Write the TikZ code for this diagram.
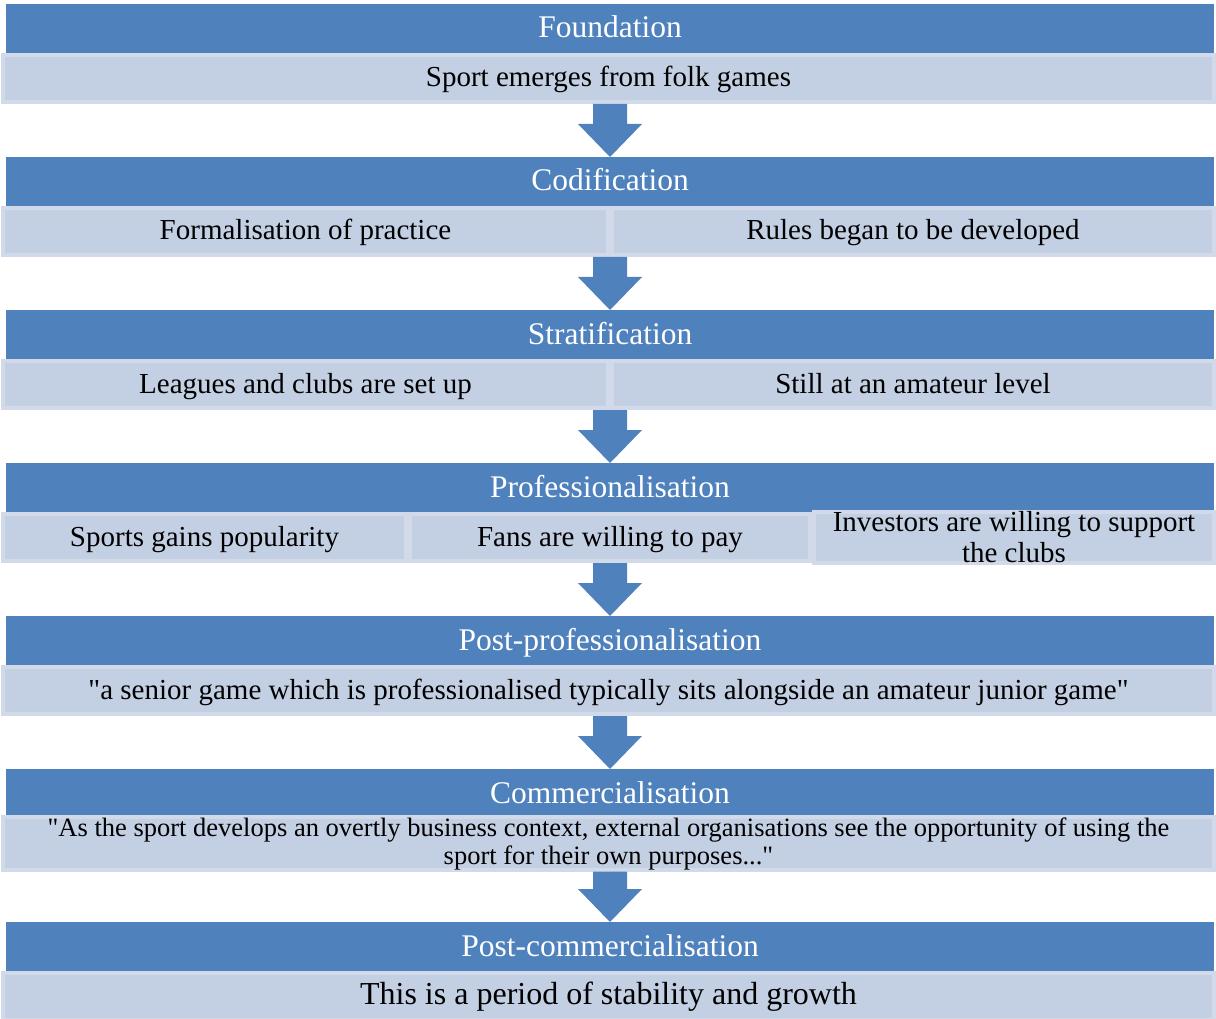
\documentclass[tikz,border=0pt]{standalone}
\usepackage{fontspec}
\setmainfont{Liberation Serif}[Ligatures=TeXOff]
\usetikzlibrary{calc}
\definecolor{accent}{HTML}{4F81BD}
\definecolor{paleband}{HTML}{C3CFE2}
\definecolor{palerim}{HTML}{D2DAEA}
\tikzset{
  header/.style={fill=accent, text=white, inner sep=0pt, outer sep=0pt,
    minimum width=1208pt, minimum height=49pt,
    text height=24pt, text depth=5pt,
    font=\fontsize{31.5}{33}\selectfont},
  band/.style={fill=paleband, draw=palerim, line width=4pt, inner sep=0pt,
    minimum height=47pt, text=black, align=center,
    font=\fontsize{29}{31}\selectfont},
  oneline/.style={text height=21pt, text depth=4pt},
  full/.style={band, minimum width=1211pt},
  half/.style={band, minimum width=#1pt},
  flow/.style={fill=accent}
}
% block arrow from the bottom of one row to the top of the next header
\newcommand\stagearrow[2]{%
  \fill[flow] let \p1=(#1.south), \p2=(#2.north) in
    (\x2-17pt,\y1) -- (\x2+17pt,\y1) -- (\x2+17pt,\y2+33pt) --
    (\x2+32pt,\y2+33pt) -- (\x2,\y2) -- (\x2-32pt,\y2+33pt) --
    (\x2-17pt,\y2+33pt) -- cycle;}
\begin{document}
\begin{tikzpicture}[x=1pt,y=-1pt]
\useasboundingbox (0,0) rectangle (1216,1019);

% Foundation
\node[header] (h1) at (610,28.5) {Foundation};
\node[full, oneline] (s1) at (608.5,78.5) {Sport emerges from folk games};

% Codification
\node[header] (h2) at (610,181.5) {Codification};
\node[half=605, oneline] (s2a) at (305.5,231.5) {Formalisation of practice};
\node[half=602, oneline] (s2b) at (913,231.5) {Rules began to be developed};

% Stratification
\node[header] (h3) at (610,334.5) {Stratification};
\node[half=605, oneline] (s3a) at (305.5,384.5) {Leagues and clubs are set up};
\node[half=602, oneline] (s3b) at (913,384.5) {Still at an amateur level};

% Professionalisation
\node[header] (h4) at (610,487.5) {Professionalisation};
\node[half=403, oneline] (s4a) at (204.5,537.5) {Sports gains popularity};
\node[half=400, oneline] (s4b) at (610,537.5) {Fans are willing to pay};
\node[half=400] (s4c) at (1014,537.5) {Investors are willing to support\\the clubs};

% Post-professionalisation
\node[header] (h5) at (610,640.5) {Post-professionalisation};
\node[full, oneline] (s5) at (608.5,690.5) {"a senior game which is professionalised typically sits alongside an amateur junior game"};

% Commercialisation
\node[header] (h6) at (610,793.5) {Commercialisation};
\node[full, font=\fontsize{26.5}{28}\selectfont] (s6) at (608.5,843.5)
  {"As the sport develops an overtly business context, external organisations see the opportunity of using the\\sport for their own purposes..."};

% Post-commercialisation
\node[header] (h7) at (610,946.5) {Post-commercialisation};
\node[full, font=\fontsize{32}{34}\selectfont, text height=21pt, text depth=5pt] (s7) at (608.5,996.5) {This is a period of stability and growth};

\stagearrow{s1}{h2}
\stagearrow{s2a}{h3}
\stagearrow{s3a}{h4}
\stagearrow{s4b}{h5}
\stagearrow{s5}{h6}
\stagearrow{s6}{h7}
\end{tikzpicture}
\end{document}
